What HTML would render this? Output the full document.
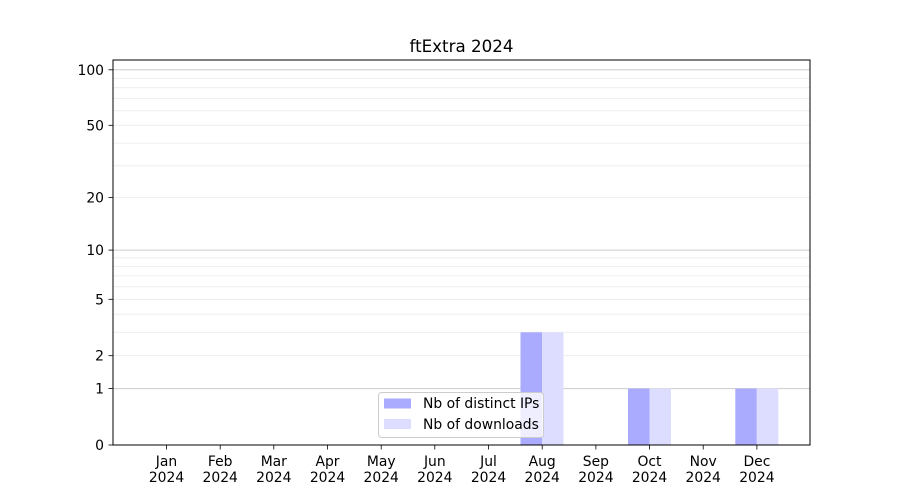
<!DOCTYPE html>
<html><head><meta charset="utf-8"><style>body{margin:0;background:#fff}svg{display:block;font-family:"DejaVu Sans","Liberation Sans",sans-serif}</style></head>
<body>
<svg width="900" height="500" viewBox="0 0 900 500" xmlns="http://www.w3.org/2000/svg">
<rect width="900" height="500" fill="#fff"/>
<g stroke="#ebebeb" stroke-width="0.8">
<line x1="113" x2="810" y1="355.7" y2="355.7"/><line x1="113" x2="810" y1="332.3" y2="332.3"/><line x1="113" x2="810" y1="314.2" y2="314.2"/><line x1="113" x2="810" y1="299.3" y2="299.3"/><line x1="113" x2="810" y1="286.8" y2="286.8"/><line x1="113" x2="810" y1="275.9" y2="275.9"/><line x1="113" x2="810" y1="266.4" y2="266.4"/><line x1="113" x2="810" y1="257.8" y2="257.8"/>
<line x1="113" x2="810" y1="197.5" y2="197.5"/><line x1="113" x2="810" y1="165.8" y2="165.8"/><line x1="113" x2="810" y1="143.1" y2="143.1"/><line x1="113" x2="810" y1="125.3" y2="125.3"/><line x1="113" x2="810" y1="110.8" y2="110.8"/><line x1="113" x2="810" y1="98.4" y2="98.4"/><line x1="113" x2="810" y1="87.7" y2="87.7"/><line x1="113" x2="810" y1="78.3" y2="78.3"/>
</g>
<g stroke="#cccccc" stroke-width="1">
<line x1="113" x2="810" y1="388.6" y2="388.6"/><line x1="113" x2="810" y1="250.1" y2="250.1"/><line x1="113" x2="810" y1="69.8" y2="69.8"/>
</g>
<g>
<rect x="520.5" y="332.3" width="21.5" height="112.7" fill="#aaaaff"/><rect x="542" y="332.3" width="21.5" height="112.7" fill="#ddddff"/>
<rect x="628" y="388.6" width="21.5" height="56.4" fill="#aaaaff"/><rect x="649.5" y="388.6" width="21.5" height="56.4" fill="#ddddff"/>
<rect x="735.3" y="388.6" width="21.5" height="56.4" fill="#aaaaff"/><rect x="756.8" y="388.6" width="21.5" height="56.4" fill="#ddddff"/>
</g>
<rect x="113" y="60" width="697" height="385" fill="none" stroke="#000" stroke-width="1"/>
<g stroke="#000" stroke-width="0.8">
<line x1="108.5" x2="113" y1="445" y2="445"/><line x1="108.5" x2="113" y1="388.6" y2="388.6"/><line x1="108.5" x2="113" y1="355.7" y2="355.7"/><line x1="108.5" x2="113" y1="299.3" y2="299.3"/><line x1="108.5" x2="113" y1="250.1" y2="250.1"/><line x1="108.5" x2="113" y1="197.5" y2="197.5"/><line x1="108.5" x2="113" y1="125.3" y2="125.3"/><line x1="108.5" x2="113" y1="69.8" y2="69.8"/>
</g>
<g font-size="13.9" text-anchor="end" fill="#000">
<text x="104" y="450">0</text><text x="104" y="393.6">1</text><text x="104" y="360.7">2</text><text x="104" y="304.3">5</text><text x="104" y="255.1">10</text><text x="104" y="202.5">20</text><text x="104" y="130.3">50</text><text x="104" y="74.8">100</text>
</g>
<g stroke="#000" stroke-width="0.8">
<line x1="166.5" x2="166.5" y1="445" y2="449.5"/><line x1="220.2" x2="220.2" y1="445" y2="449.5"/><line x1="273.8" x2="273.8" y1="445" y2="449.5"/><line x1="327.5" x2="327.5" y1="445" y2="449.5"/><line x1="381.2" x2="381.2" y1="445" y2="449.5"/><line x1="434.8" x2="434.8" y1="445" y2="449.5"/><line x1="488.5" x2="488.5" y1="445" y2="449.5"/><line x1="542.2" x2="542.2" y1="445" y2="449.5"/><line x1="595.9" x2="595.9" y1="445" y2="449.5"/><line x1="649.5" x2="649.5" y1="445" y2="449.5"/><line x1="703.2" x2="703.2" y1="445" y2="449.5"/><line x1="756.9" x2="756.9" y1="445" y2="449.5"/>
</g>
<g font-size="13.9" text-anchor="middle" fill="#000">
<text x="166.5" y="466">Jan</text><text x="166.5" y="482">2024</text>
<text x="220.2" y="466">Feb</text><text x="220.2" y="482">2024</text>
<text x="273.8" y="466">Mar</text><text x="273.8" y="482">2024</text>
<text x="327.5" y="466">Apr</text><text x="327.5" y="482">2024</text>
<text x="381.2" y="466">May</text><text x="381.2" y="482">2024</text>
<text x="434.8" y="466">Jun</text><text x="434.8" y="482">2024</text>
<text x="488.5" y="466">Jul</text><text x="488.5" y="482">2024</text>
<text x="542.2" y="466">Aug</text><text x="542.2" y="482">2024</text>
<text x="595.9" y="466">Sep</text><text x="595.9" y="482">2024</text>
<text x="649.5" y="466">Oct</text><text x="649.5" y="482">2024</text>
<text x="703.2" y="466">Nov</text><text x="703.2" y="482">2024</text>
<text x="756.9" y="466">Dec</text><text x="756.9" y="482">2024</text>
</g>
<text x="461.5" y="52" font-size="16.7" text-anchor="middle">ftExtra 2024</text>
<rect x="378.5" y="392.5" width="165" height="45" rx="3" fill="#fff" fill-opacity="0.8" stroke="#cccccc" stroke-width="1"/>
<rect x="384" y="398.5" width="27" height="10" fill="#aaaaff"/>
<rect x="384" y="419" width="27" height="10" fill="#ddddff"/>
<g font-size="13.9" fill="#000"><text x="423" y="408">Nb of distinct IPs</text><text x="423" y="429">Nb of downloads</text></g>
</svg>
</body></html>
